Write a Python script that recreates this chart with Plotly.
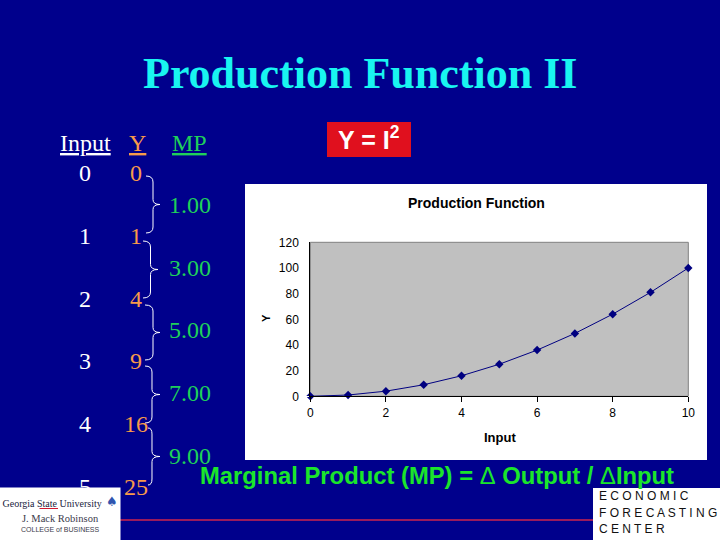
import plotly.graph_objects as go

# -------------------------------------------------------------
# Data
# -------------------------------------------------------------
chart_input = [0, 1, 2, 3, 4, 5, 6, 7, 8, 9, 10]
chart_y = [0, 1, 4, 9, 16, 25, 36, 49, 64, 81, 100]
table_input = ["0", "1", "2", "3", "4", "5"]
table_y = ["0", "1", "4", "9", "16", "25"]
table_mp = ["1.00", "3.00", "5.00", "7.00", "9.00"]
y_ticks = [0, 20, 40, 60, 80, 100, 120]
x_ticks = [0, 2, 4, 6, 8, 10]

W, H = 720, 540
BG = "#00008C"
SERIF = "Liberation Serif"
SANS = "Liberation Sans"
ORANGE = "#F79A4A"
MP_GREEN = "#1FD05A"
TEXT_GREEN = "#1BE52B"


# -------------------------------------------------------------
# Helpers
# -------------------------------------------------------------
def px(x):
    return x / W


def py(y):
    return 1 - y / H


def label(x, y, text, size, color, font=SERIF, **kw):
    kw.setdefault("xanchor", "center")
    kw.setdefault("yanchor", "middle")
    return dict(x=px(x), y=py(y), xref="paper", yref="paper", text=text, showarrow=False,
                font=dict(family=font, size=size, color=color), **kw)


def box(x0, y0, x1, y1, fill, line=None):
    return dict(type="rect", xref="paper", yref="paper", x0=px(x0), x1=px(x1), y0=py(y0), y1=py(y1),
                fillcolor=fill, line=dict(color=line or fill, width=1 if line else 0), layer="below")


def brace(x0, x1, tip, top, bottom):
    mid = (top + bottom) / 2
    pts = [("M", x0, top), ("Q", x1, top), ("", x1, top + 6), ("L", x1, mid - 5),
           ("Q", x1, mid), ("", tip, mid), ("Q", x1, mid), ("", x1, mid + 5),
           ("L", x1, bottom - 6), ("Q", x1, bottom), ("", x0, bottom)]
    path = " ".join(f"{c} {px(a):.5f} {py(b):.5f}" for c, a, b in pts)
    return dict(type="path", path=path, xref="paper", yref="paper", line=dict(color="white", width=1))


# -------------------------------------------------------------
# Figure
# -------------------------------------------------------------
fig = go.Figure()
fig.add_trace(go.Scatter(
    x=chart_input, y=chart_y, mode="lines+markers", cliponaxis=False, showlegend=False,
    line=dict(color="#000080", width=1),
    marker=dict(symbol="diamond", size=6.5, color="#000080"),
))

shapes = [
    box(245, 184, 707, 460, "white"),
    box(327, 122, 411, 157, "#E0101E"),
    box(310.3, 242.3, 688.3, 396.3, "#C0C0C0", "#808080"),
    box(593, 488, 720, 540, "white"),
    dict(type="line", xref="paper", yref="paper", x0=px(120), x1=px(593), y0=py(520), y1=py(520),
         line=dict(color="#9A1A5C", width=2)),
]
shapes += [
    brace(146, 153, 160, 176, 233),
    brace(143, 150.5, 158, 241, 298),
    brace(145, 153, 160, 305, 360),
    brace(145, 152, 160, 366, 423),
    brace(148, 152, 160, 428, 485),
]

annotations = [
    label(360, 73, "<b>Production Function II</b>", 44, "#19F5F0"),
    label(85, 143, "<u>Input</u>", 24, "white"),
    label(137, 143, "<u>Y</u>", 24, ORANGE),
    label(189, 143, "<u>MP</u>", 24, MP_GREEN),
    label(369, 138, "<b>Y = I<sup>2</sup></b>", 25, "white", SANS),
    label(476, 203, "<b>Production Function</b>", 14, "black", SANS),
    label(266, 318, "<b>Y</b>", 11, "black", SANS, textangle=-90),
    label(500, 437, "<b>Input</b>", 13, "black", SANS),
    label(437, 475, "<b>Marginal Product (MP) = </b>Δ<b> Output / </b>Δ<b>Input</b>", 23.8, TEXT_GREEN, SANS),
]
row_y = [173, 236, 299, 361, 424, 487]
for yy, a, b in zip(row_y, table_input, table_y):
    annotations.append(label(85, yy, a, 24, "white"))
    annotations.append(label(135.5, yy, b, 24, ORANGE))
for yy, m in zip([205, 268, 330, 393, 456], table_mp):
    annotations.append(label(190, yy, m, 24, MP_GREEN))

# logos sit on top of the last table row, so the left one is a filled annotation
annotations += [
    label(60, 514, "<span style='font-size:7px'>\u00a0</span><br>\u00a0Georgia State University", 10, "#1A2340",
          width=120, height=52, bgcolor="white", borderpad=0, valign="top", align="left"),
    label(60, 518, "J. Mack Robinson", 10.5, "#3A3A4A"),
    label(60, 529, "COLLEGE of BUSINESS", 7, "#3A3A4A", SANS),
    label(112, 501, "♠", 13, "#2F55B0", "DejaVu Sans"),
    dict(x=px(58), y=py(508.5), xref="paper", yref="paper", text="", showarrow=True, arrowhead=0, arrowwidth=1,
         arrowcolor="#D01830", ax=-20, ay=0, standoff=0),
    label(597, 496, "E C O N O M I C", 12, "#111111", SANS, xanchor="left"),
    label(597, 513, "F O R E C A S T I N G", 12, "#111111", SANS, xanchor="left"),
    label(597, 529, "C E N T E R", 12, "#111111", SANS, xanchor="left"),
]

fig.update_layout(
    width=W, height=H, margin=dict(l=0, r=0, t=0, b=0, pad=0),
    paper_bgcolor=BG, plot_bgcolor="#C0C0C0",
    shapes=shapes, annotations=annotations,
    xaxis=dict(domain=[px(310.3), px(688.3)], range=[0, 10], tickvals=x_ticks, showgrid=False, zeroline=False,
               automargin=False, showline=True, linecolor="black", linewidth=1, ticks="outside", ticklen=5,
               tickcolor="black", tickfont=dict(family=SANS, size=12, color="black")),
    yaxis=dict(domain=[py(396.3), py(242.3)], range=[0, 120], tickvals=y_ticks, showgrid=False, zeroline=False,
               automargin=False, showline=True, linecolor="black", linewidth=1, ticks="outside", ticklen=8,
               tickcolor="white", tickfont=dict(family=SANS, size=12, color="black")),
)

fig.write_html("out.html", config={"displayModeBar": False}, post_script="document.body.style.margin='0';")
